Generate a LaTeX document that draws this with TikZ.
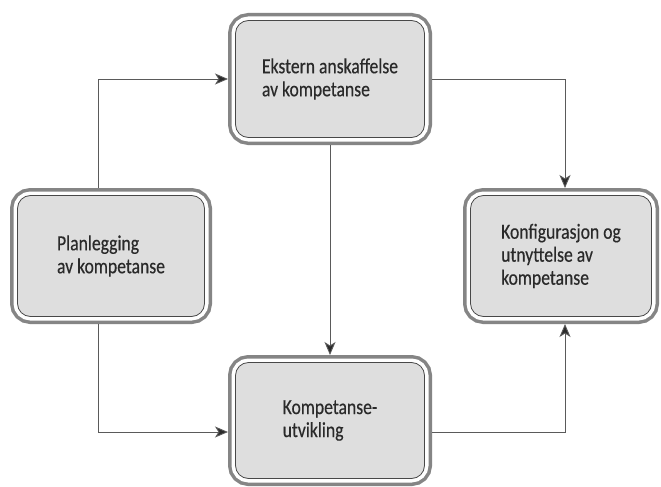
\documentclass[tikz,border=0pt]{standalone}
\usepackage{fontspec}
\setmainfont{Carlito}[FakeStretch=0.82,FakeBold=0.4]
\usetikzlibrary{arrows.meta}
\definecolor{ring}{HTML}{858585}
\definecolor{innerline}{HTML}{484848}
\definecolor{boxfill}{HTML}{DEDEDE}
\definecolor{txt}{HTML}{2A2A2A}
\definecolor{lin}{HTML}{5A5A5A}
\begin{document}
\begin{tikzpicture}[x=1pt,y=-1pt,
  box/.style={shape=rectangle, rounded corners=13pt, draw=innerline, line width=0.8pt, fill=boxfill,
    preaction={draw=ring, line width=15pt},
    preaction={draw=white, line width=8pt},
    outer sep=7.5pt, align=left, inner sep=0pt,
    font=\fontsize{21.5}{23}\selectfont, text=txt},
  conn/.style={draw=lin, line width=0.9pt, -{Stealth[length=13pt,width=11pt,inset=3.5pt,fill=txt]}}]
\useasboundingbox[fill=white] (0,0) rectangle (661,487);
\node[box, minimum width=189pt, minimum height=117pt] (ek) at (330,79) {Ekstern anskaffelse\\av kompetanse};
\node[box, minimum width=187pt, minimum height=121pt] (pl) at (111,256) {Planlegging\\av kompetanse};
\node[box, minimum width=181pt, minimum height=121pt] (ko) at (561,256) {Konfigurasjon og\\utnyttelse av\\kompetanse};
\node[box, minimum width=189pt, minimum height=116pt] (ku) at (330,420.5) {Kompetanse-\\utvikling};
\draw[conn] ([xshift=-13pt]pl.north) |- (ek.west);
\draw[conn] (ek.east) -| ([xshift=4pt]ko.north);
\draw[conn] (ek.south) -- (ku.north);
\draw[conn] ([xshift=-13pt]pl.south) |- ([yshift=-11.5pt]ku.west);
\draw[conn] ([yshift=-11.5pt]ku.east) -| ([xshift=4pt]ko.south);
\end{tikzpicture}
\end{document}
